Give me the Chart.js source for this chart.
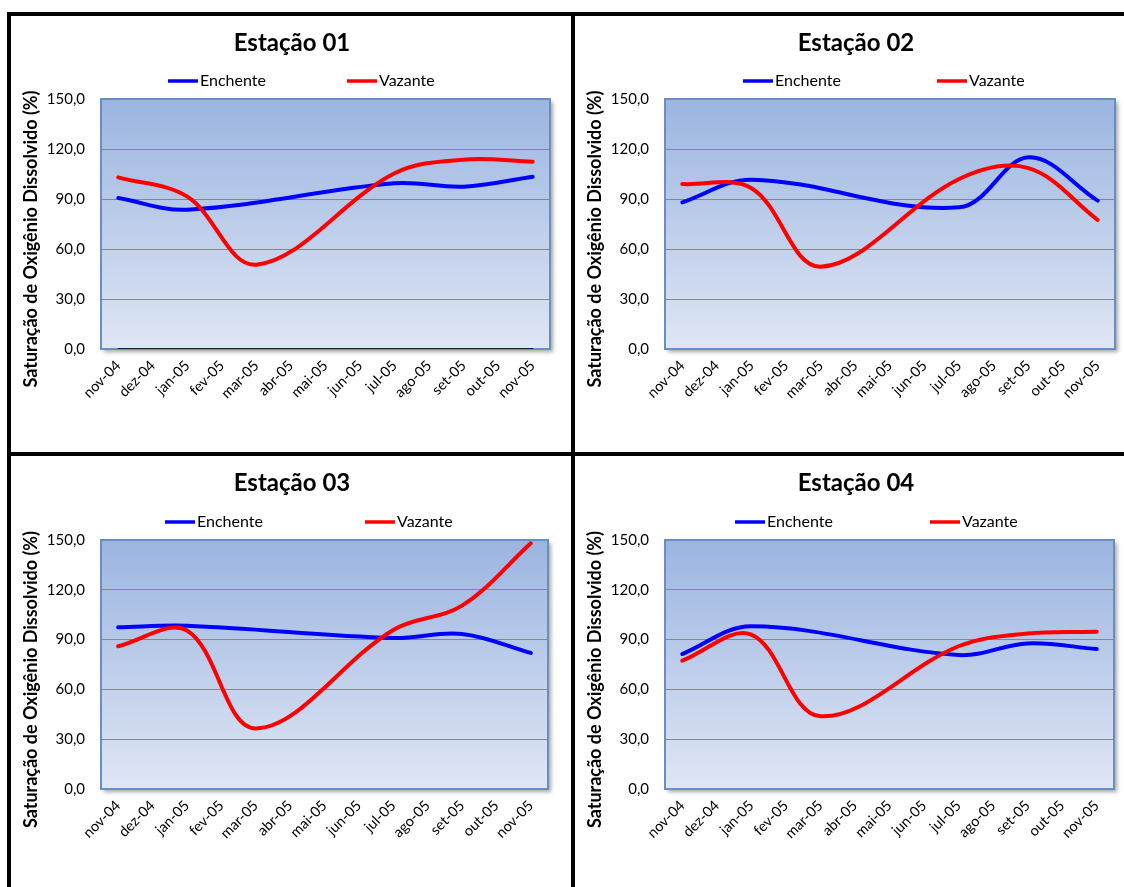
<!DOCTYPE html>
<html>
<head>
<meta charset="utf-8">
<script src="https://cdn.jsdelivr.net/npm/chart.js@4.4.1/dist/chart.umd.min.js"></script>
<style>
  html, body { margin: 0; padding: 0; background: #fff; }
  body { position: relative; width: 1124px; height: 887px; overflow: hidden; }
  .panel { position: absolute; }
  .rule { position: absolute; background: #000; }
  canvas { display: block; }
</style>
</head>
<body>
<div class="rule" style="left:7px;top:12px;width:1140px;height:4px"></div>
<div class="rule" style="left:7px;top:12px;width:4px;height:900px"></div>
<div class="rule" style="left:571px;top:12px;width:4px;height:900px"></div>
<div class="rule" style="left:7px;top:452px;width:1140px;height:4px"></div>

<div class="panel" style="left:11px;top:16px"><canvas id="c1" width="560" height="436"></canvas></div>
<div class="panel" style="left:575px;top:16px"><canvas id="c2" width="549" height="436"></canvas></div>
<div class="panel" style="left:11px;top:456px"><canvas id="c3" width="560" height="431"></canvas></div>
<div class="panel" style="left:575px;top:456px"><canvas id="c4" width="549" height="431"></canvas></div>

<script>
// Campaign months (category axis)
const months = ['nov-04','dez-04','jan-05','fev-05','mar-05','abr-05','mai-05','jun-05','jul-05','ago-05','set-05','out-05','nov-05'];

// Y-axis tick values
const yTicks = [0, 30, 60, 90, 120, 150];

// Dissolved oxygen saturation (%) per station; null = no sampling that month
const est01Enchente = [90.6, null, 83.6, null, null, null, null, null, 99.4, null, 97.4, null, 103.4];
const est01Vazante  = [103.0, null, 91.4, null, 50.6, null, null, null, 105.4, null, 113.6, null, 112.4];
const est01Zero     = [0, 0, 0, 0, 0, 0, 0, 0, 0, 0, 0, 0, 0];

const est02Enchente = [88.0, null, 101.6, null, null, null, null, null, 85.0, null, 115.0, null, 89.0];
const est02Vazante  = [99.0, null, 96.5, null, 49.4, null, null, null, 102.0, null, 108.5, null, 77.5];

const est03Enchente = [97.4, null, 98.4, null, null, null, null, null, 91.0, null, 93.4, null, 82.0];
const est03Vazante  = [86.0, null, 95.5, null, 36.5, null, null, null, 95.8, null, 110.5, null, 148.0];

const est04Enchente = [81.3, null, 98.0, null, null, null, null, null, 80.7, null, 87.7, null, 84.3];
const est04Vazante  = [77.3, null, 93.0, null, 43.8, null, null, null, 86.0, null, 93.7, null, 94.7];

const seriesNames = ['Enchente', 'Vazante'];
const seriesColors = ['#0000ff', '#ff0000'];
const yTitle = 'Saturação de Oxigênio Dissolvido (%)';

const FONT = 'Lato, "Open Sans", "DejaVu Sans", sans-serif';

// Plot background, frame and the text around each panel
const panelDecor = {
  id: 'panelDecor',
  beforeDraw(chart, args, o) {
    const { ctx, chartArea: a } = chart;
    ctx.save();
    ctx.shadowColor = 'rgba(0,0,0,0.35)';
    ctx.shadowBlur = 4;
    ctx.shadowOffsetX = 3;
    ctx.shadowOffsetY = 3;
    const g = ctx.createLinearGradient(0, a.top, 0, a.bottom);
    g.addColorStop(0, '#9bb5e1');
    g.addColorStop(1, '#dfe6f4');
    ctx.fillStyle = g;
    ctx.fillRect(a.left, a.top, a.width, a.height);
    ctx.restore();
  },
  beforeDatasetsDraw(chart) {
    const { ctx, chartArea: a } = chart;
    ctx.save();
    ctx.strokeStyle = '#6a8dc4';
    ctx.lineWidth = 2;
    ctx.strokeRect(a.left, a.top, a.width, a.height);
    ctx.restore();
  },
  afterDraw(chart, args, o) {
    const { ctx, chartArea: a } = chart;
    ctx.save();
    ctx.fillStyle = '#000';
    // title
    ctx.font = 'bold 24px ' + FONT;
    ctx.textAlign = 'center';
    ctx.textBaseline = 'middle';
    ctx.fillText(o.title, o.titleX, o.titleY);
    // legend
    ctx.font = '16px ' + FONT;
    ctx.textAlign = 'left';
    seriesNames.forEach((name, i) => {
      const x = a.left + o.legendX[i];
      ctx.strokeStyle = seriesColors[i];
      ctx.lineWidth = 3.5;
      ctx.beginPath();
      ctx.moveTo(x, o.legendY);
      ctx.lineTo(x + 30, o.legendY);
      ctx.stroke();
      ctx.fillText(name, x + 32, o.legendY);
    });
    // y-axis title
    ctx.font = 'bold 18px ' + FONT;
    ctx.translate(o.yTitleX, (a.top + a.bottom) / 2 + o.yTitleShift);
    ctx.rotate(-Math.PI / 2);
    ctx.textAlign = 'center';
    ctx.fillText(yTitle, 0, 0);
    ctx.restore();
  }
};

function makeChart(id, title, enchente, vazante, zero, box) {
  const canvas = document.getElementById(id);
  const W = canvas.width, H = canvas.height;
  const datasets = [
    { label: seriesNames[0], data: enchente, borderColor: seriesColors[0], order: 2 },
    { label: seriesNames[1], data: vazante, borderColor: seriesColors[1], order: 1 }
  ];
  if (zero) {
    datasets.push({ label: 'zero', data: zero, borderColor: '#000', borderWidth: 1.5, tension: 0, order: 3 });
  }
  datasets.forEach(d => {
    d.fill = false;
    d.pointRadius = 0;
    d.pointHoverRadius = 0;
    d.spanGaps = true;
    if (d.borderWidth === undefined) d.borderWidth = 4;
    if (d.tension === undefined) d.tension = 0.36;
    d.borderCapStyle = 'round';
    d.borderJoinStyle = 'round';
  });
  return new Chart(canvas, {
    type: 'line',
    data: { labels: months, datasets },
    plugins: [panelDecor],
    options: {
      responsive: false,
      animation: false,
      devicePixelRatio: 1,
      layout: { padding: { left: 0, top: box.top, right: W - box.right, bottom: 0 } },
      plugins: {
        legend: { display: false },
        tooltip: { enabled: false },
        panelDecor: {
          title,
          titleX: 281, titleY: 27,
          legendX: box.legendX, legendY: box.legendY,
          yTitleX: 20, yTitleShift: 15
        }
      },
      scales: {
        x: {
          type: 'category',
          offset: true,
          grid: { display: false, drawTicks: false },
          border: { display: false },
          ticks: {
            autoSkip: false, minRotation: 45, maxRotation: 45,
            color: '#000', font: { family: FONT, size: 14.5 }, padding: 8
          },
          afterFit(s) { s.height = H - box.bottom; }
        },
        y: {
          min: 0, max: 150,
          afterBuildTicks(s) { s.ticks = yTicks.map(v => ({ value: v })); },
          grid: { color: '#878787', lineWidth: 1, drawTicks: false },
          border: { display: false },
          ticks: {
            color: '#000', font: { family: FONT, size: 15 }, padding: 16,
            callback: v => v.toFixed(1).replace('.', ',')
          },
          afterFit(s) { s.width = box.left; }
        }
      }
    }
  });
}

makeChart('c1', 'Estação 01', est01Enchente, est01Vazante, est01Zero,
  { left: 90, top: 83, right: 539, bottom: 333, legendX: [67, 246], legendY: 65 });
makeChart('c2', 'Estação 02', est02Enchente, est02Vazante, null,
  { left: 90, top: 83, right: 540, bottom: 333, legendX: [78, 272], legendY: 65 });
makeChart('c3', 'Estação 03', est03Enchente, est03Vazante, null,
  { left: 90, top: 84, right: 537, bottom: 333, legendX: [64, 264], legendY: 66 });
makeChart('c4', 'Estação 04', est04Enchente, est04Vazante, null,
  { left: 90, top: 84, right: 539, bottom: 333, legendX: [70, 265], legendY: 66 });
</script>
</body>
</html>
